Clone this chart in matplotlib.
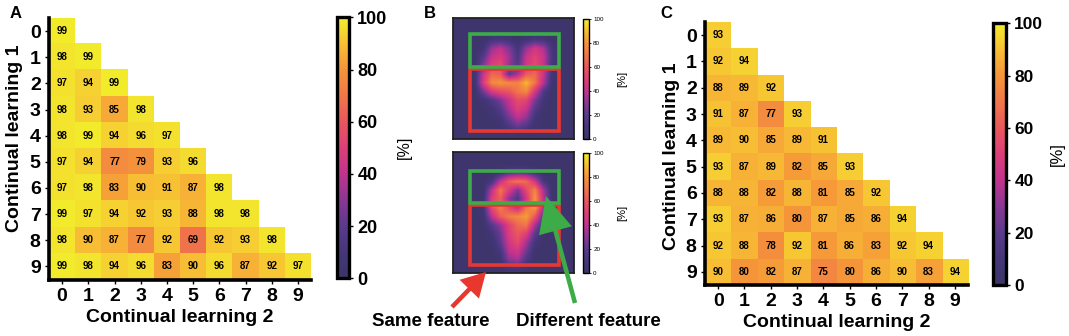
import numpy as np
import matplotlib
matplotlib.use('Agg')
import matplotlib.pyplot as plt
from matplotlib.colors import LinearSegmentedColormap
from matplotlib.patches import Rectangle, FancyArrow
import matplotlib.transforms as mtransforms

plt.rcParams['font.family'] = ['Liberation Sans', 'DejaVu Sans']

# ---------------- data ----------------
digits = list(range(10))
tick_labels = [str(d) for d in digits]
cbar_ticks = [0, 20, 40, 60, 80, 100]

acc_A_rows = [
    [99],
    [98, 99],
    [97, 94, 99],
    [98, 93, 85, 98],
    [98, 99, 94, 96, 97],
    [97, 94, 77, 79, 93, 96],
    [97, 98, 83, 90, 91, 87, 98],
    [99, 97, 94, 92, 93, 88, 98, 98],
    [98, 90, 87, 77, 92, 69, 92, 93, 98],
    [99, 98, 94, 96, 83, 90, 96, 87, 92, 97],
]

acc_C_rows = [
    [93],
    [92, 94],
    [88, 89, 92],
    [91, 87, 77, 93],
    [89, 90, 85, 89, 91],
    [93, 87, 89, 82, 85, 93],
    [88, 88, 82, 88, 81, 85, 92],
    [93, 87, 86, 80, 87, 85, 86, 94],
    [92, 88, 78, 92, 81, 86, 83, 92, 94],
    [90, 80, 82, 87, 75, 80, 86, 90, 83, 94],
]

# coarse saliency maps (14x14, %)
saliency_same = [
    [3, 3, 3, 3, 3, 3, 3, 3, 3, 3, 3, 3, 3, 3],
    [3, 3, 3, 3, 3, 3, 3, 3, 3, 3, 3, 3, 3, 3],
    [3, 3, 3, 3, 10, 12, 8, 3, 8, 12, 10, 3, 3, 3],
    [3, 3, 3, 8, 32, 40, 28, 10, 32, 45, 36, 10, 3, 3],
    [3, 3, 3, 18, 42, 48, 34, 14, 42, 52, 42, 12, 3, 3],
    [3, 3, 3, 28, 50, 55, 32, 18, 46, 55, 42, 10, 3, 3],
    [3, 3, 5, 42, 66, 62, 20, 35, 62, 66, 42, 8, 3, 3],
    [3, 3, 5, 48, 76, 80, 76, 74, 88, 70, 38, 5, 3, 3],
    [3, 3, 3, 26, 48, 56, 60, 70, 76, 46, 16, 3, 3, 3],
    [3, 3, 3, 8, 16, 28, 42, 56, 52, 28, 8, 3, 3, 3],
    [3, 3, 3, 3, 8, 18, 36, 50, 42, 18, 5, 3, 3, 3],
    [3, 3, 3, 3, 5, 10, 26, 40, 32, 10, 3, 3, 3, 3],
    [3, 3, 3, 3, 3, 5, 14, 24, 16, 6, 3, 3, 3, 3],
    [3, 3, 3, 3, 3, 3, 3, 3, 3, 3, 3, 3, 3, 3],
]

saliency_diff = [
    [3, 3, 3, 3, 3, 3, 3, 3, 3, 3, 3, 3, 3, 3],
    [3, 3, 3, 3, 3, 3, 3, 3, 3, 3, 3, 3, 3, 3],
    [3, 3, 3, 3, 3, 8, 18, 22, 20, 10, 3, 3, 3, 3],
    [3, 3, 3, 3, 12, 42, 62, 70, 66, 45, 12, 3, 3, 3],
    [3, 3, 3, 3, 40, 70, 48, 28, 55, 75, 35, 3, 3, 3],
    [3, 3, 3, 5, 50, 62, 30, 15, 45, 80, 40, 5, 3, 3],
    [3, 3, 3, 8, 55, 72, 55, 40, 70, 82, 35, 5, 3, 3],
    [3, 3, 3, 5, 40, 62, 72, 76, 82, 60, 20, 3, 3, 3],
    [3, 3, 3, 3, 18, 32, 52, 66, 70, 35, 8, 3, 3, 3],
    [3, 3, 3, 3, 8, 25, 50, 60, 50, 20, 3, 3, 3, 3],
    [3, 3, 3, 3, 5, 20, 45, 55, 35, 10, 3, 3, 3, 3],
    [3, 3, 3, 3, 3, 12, 40, 45, 25, 5, 3, 3, 3, 3],
    [3, 3, 3, 3, 3, 6, 30, 35, 15, 3, 3, 3, 3, 3],
    [3, 3, 3, 3, 3, 3, 8, 10, 5, 3, 3, 3, 3, 3],
]

# ---------------- style ----------------
cmap = LinearSegmentedColormap.from_list('washed_plasma', [
    (0.0, '#3b3567'), (0.1, '#45367a'), (0.2, '#5a3a8c'), (0.3, '#8a3794'),
    (0.4, '#c2338e'), (0.5, '#dc3f78'), (0.6, '#e9575d'), (0.7, '#f1764a'),
    (0.8, '#f5953a'), (0.9, '#f8bd35'), (1.0, '#f2ef2c')])

W, H = 1069, 336
fig = plt.figure(figsize=(W / 100, H / 100), dpi=100)


def px_axes(x0, y0, x1, y1):
    """axes from pixel box (top-left origin)"""
    return fig.add_axes([x0 / W, 1 - y1 / H, (x1 - x0) / W, (y1 - y0) / H])


def tri_matrix(rows):
    m = np.full((10, 10), np.nan)
    for i, r in enumerate(rows):
        m[i, :len(r)] = r
    return m


def heat_panel(ax, cax, rows, ylab_x, ylab_y, cbar_fs, pct_fs, pct_x):
    m = tri_matrix(rows)
    im = ax.imshow(m, cmap=cmap, vmin=0, vmax=100, aspect='auto',
                   interpolation='nearest')
    for i, r in enumerate(rows):
        for j, v in enumerate(r):
            ax.text(j, i, str(v), ha='center', va='center', fontsize=7,
                    fontweight='bold', color='black')
    ax.set_xlim(-0.5, 9.5)
    ax.set_ylim(9.5, -0.5)
    ax.set_xticks(digits)
    ax.set_yticks(digits)
    ax.set_xticklabels(tick_labels, fontsize=14, fontweight='bold')
    ax.set_yticklabels(tick_labels, fontsize=14, fontweight='bold')
    ax.tick_params(length=3, width=1, pad=3)
    for s in ['top', 'right']:
        ax.spines[s].set_visible(False)
    for s in ['left', 'bottom']:
        ax.spines[s].set_linewidth(2.6)
        ax.spines[s].set_color('black')
    ax.set_xlabel('Continual learning 2', fontsize=14, fontweight='bold')
    ax.set_ylabel('Continual learning 1', fontsize=14, fontweight='bold')
    ax.xaxis.set_label_coords(0.5, -0.112)
    ax.yaxis.set_label_coords(ylab_x, ylab_y)
    cb = fig.colorbar(im, cax=cax, ticks=cbar_ticks)
    cb.outline.set_linewidth(2.4)
    cb.ax.tick_params(labelsize=cbar_fs, length=3, width=1, pad=3)
    for t in cb.ax.get_yticklabels():
        t.set_fontweight('bold')
    cb.set_label('[%]', fontsize=pct_fs)
    cb.ax.yaxis.set_label_coords(pct_x, 0.5)
    return im


# Panel A
axA = px_axes(49, 18, 311, 279.5)
caxA = px_axes(337, 17.3, 349, 278.3)
heat_panel(axA, caxA, acc_A_rows, -0.10, 0.54, 13, 11.5, 5.0)

# Panel C
axC = px_axes(705, 22, 968, 285)
caxC = px_axes(993, 23.3, 1006, 285)
heat_panel(axC, caxC, acc_C_rows, -0.095, 0.49, 12.5, 12, 4.4)

# Panel B
green = '#3cab48'
red = '#e8372f'
img_boxes = [(18, 139), (152, 273)]
maps = [saliency_same, saliency_diff]
rects = [
    ((4.0, 3.8, 20.6, 7.6), (4.0, 11.8, 20.6, 14.4)),
    ((4.0, 4.3, 20.6, 7.4), (4.0, 12.3, 20.6, 13.9)),
]
for (y0, y1), sal, (g, r) in zip(img_boxes, maps, rects):
    ax = px_axes(453, y0, 574, y1)
    im = ax.imshow(np.array(sal, dtype=float), cmap=cmap, vmin=0, vmax=100,
                   extent=(0, 28, 28, 0), interpolation='bilinear')
    ax.set_xlim(0, 28)
    ax.set_ylim(28, 0)
    ax.set_xticks([])
    ax.set_yticks([])
    for s in ax.spines.values():
        s.set_linewidth(1.3)
        s.set_color('#222222')
    ax.add_patch(Rectangle((r[0], r[1]), r[2], r[3], fill=False, ec=red, lw=2.6))
    ax.add_patch(Rectangle((g[0], g[1]), g[2], g[3], fill=False, ec=green, lw=2.6))
    cax = px_axes(583, y0 + 1, 589, y1)
    cb = fig.colorbar(im, cax=cax, ticks=cbar_ticks)
    cb.outline.set_linewidth(1.0)
    cb.ax.tick_params(labelsize=4.5, length=1.5, width=0.6, pad=1.5)
    cb.set_label('[%]', fontsize=8)
    cb.ax.yaxis.set_label_coords(5.7, 0.5)

# arrows (pixel coordinates, top-left origin)
pix = mtransforms.Affine2D().scale(1 / W, 1 / H) + fig.transFigure


def arrow(x0, y0, x1, y1, color, width, hw, hl):
    a = FancyArrow(x0, H - y0, x1 - x0, -(y1 - y0), width=width, head_width=hw,
                   head_length=hl, length_includes_head=True, color=color,
                   transform=pix, lw=0)
    fig.add_artist(a)


arrow(452, 307, 486, 272, red, 4.5, 27, 24)
arrow(575, 303, 546, 196, green, 4.5, 34, 36)

fig.text(431 / W, 1 - 321 / H, 'Same feature', ha='center', va='center',
         fontsize=13.5, fontweight='bold')
fig.text(588 / W, 1 - 321 / H, 'Different feature', ha='center', va='center',
         fontsize=13.5, fontweight='bold')

# panel letters
for lx, letter in [(16, 'A'), (430, 'B'), (666, 'C')]:
    fig.text(lx / W, 1 - 14 / H, letter, ha='center', va='center',
             fontsize=12, fontweight='bold')

fig.savefig('out.png', dpi=100)
